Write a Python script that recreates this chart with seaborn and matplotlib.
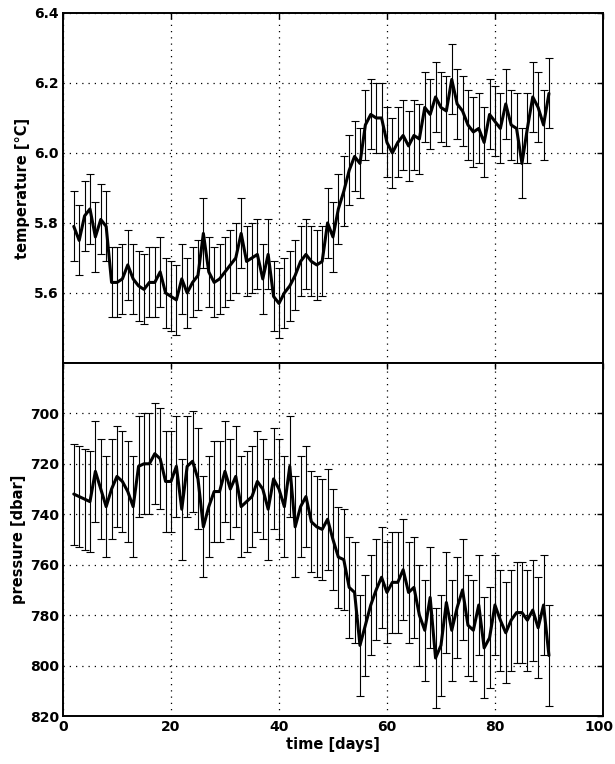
import numpy as np
import matplotlib
matplotlib.use("Agg")
import matplotlib.pyplot as plt
import matplotlib.transforms as mtransforms
import seaborn as sns
import pandas as pd

# daily values, day 2 .. day 90
days = list(range(2, 91))

temperature = [5.79, 5.75, 5.82, 5.84, 5.76, 5.81, 5.79, 5.63, 5.63, 5.64,
               5.68, 5.64, 5.62, 5.61, 5.63, 5.63, 5.66, 5.60, 5.59, 5.58,
               5.64, 5.60, 5.63, 5.65, 5.77, 5.66, 5.63, 5.64, 5.66, 5.68,
               5.70, 5.77, 5.69, 5.70, 5.71, 5.64, 5.71, 5.59, 5.57, 5.60,
               5.62, 5.65, 5.69, 5.71, 5.69, 5.68, 5.69, 5.80, 5.76, 5.84,
               5.89, 5.95, 5.99, 5.97, 6.08, 6.11, 6.10, 6.10, 6.03, 6.00,
               6.03, 6.05, 6.02, 6.05, 6.04, 6.13, 6.11, 6.16, 6.13, 6.12,
               6.21, 6.14, 6.12, 6.08, 6.06, 6.07, 6.03, 6.11, 6.09, 6.07,
               6.14, 6.08, 6.07, 5.97, 6.07, 6.16, 6.13, 6.08, 6.17]

pressure = [732, 733, 734, 735, 723, 730, 737, 730, 725, 727,
            731, 737, 721, 720, 720, 716, 718, 727, 727, 721,
            738, 721, 719, 726, 745, 737, 731, 731, 723, 730,
            725, 737, 735, 733, 727, 730, 738, 726, 730, 737,
            721, 745, 737, 733, 743, 745, 746, 742, 750, 757,
            758, 769, 771, 792, 784, 776, 770, 765, 771, 767,
            767, 762, 771, 769, 780, 786, 773, 797, 792, 775,
            786, 777, 770, 784, 786, 776, 793, 789, 776, 782,
            787, 782, 779, 779, 782, 778, 785, 776, 796]

temp_err = 0.10
pres_err = 20

df = pd.DataFrame({"day": days, "temperature": temperature, "pressure": pressure})

sns.set_style("white")
plt.rcParams['font.family'] = ['DejaVu Sans']
plt.rcParams['font.weight'] = 'bold'
plt.rcParams['text.color'] = 'k'
plt.rcParams['axes.labelcolor'] = 'k'

fig = plt.figure(figsize=(6.15, 7.64), dpi=100)
ax1 = fig.add_axes([0.1024, 0.525, 0.878, 0.458])
ax2 = fig.add_axes([0.1024, 0.0628, 0.878, 0.4622])

for ax, col, err in [(ax1, "temperature", temp_err), (ax2, "pressure", pres_err)]:
    ax.errorbar(df["day"], df[col], yerr=err, fmt="none", ecolor="k",
                elinewidth=0.8, capsize=3, capthick=0.8)
    sns.lineplot(data=df, x="day", y=col, ax=ax, color="k", linewidth=2.2)
    ax.set_xlim(0, 100)
    ax.set_xticks([0, 20, 40, 60, 80, 100])
    ax.grid(True, linestyle=(0, (1, 4)), color="k", linewidth=0.9)
    ax.tick_params(direction="in", length=4, width=1, top=True, right=True,
                   labelsize=10, colors="k", pad=3)
    for s in ax.spines.values():
        s.set_color("k")
        s.set_linewidth(1.4)

ax1.set_ylim(5.4, 6.4)
ax1.set_yticks([5.6, 5.8, 6.0, 6.2, 6.4])
ax1.set_yticklabels(["5.6", "5.8", "6.0", "6.2", "6.4"], fontweight="bold")
ax1.set_xticklabels([])
ax1.set_xlabel("")
ax1.set_ylabel("temperature [°C]", fontsize=10.5, fontweight="bold", labelpad=3)

ax2.set_ylim(820, 680)
ax2.set_yticks([700, 720, 740, 760, 780, 800, 820])
ax2.set_yticklabels(["700", "720", "740", "760", "780", "800", "820"], fontweight="bold")
ax2.set_xticklabels(["0", "20", "40", "60", "80", "100"], fontweight="bold")
ax2.set_xlabel("time [days]", fontsize=10.5, fontweight="bold", labelpad=2)
ax2.set_ylabel("pressure [dbar]", fontsize=10.5, fontweight="bold", labelpad=3)

# keep the "100" label inside the figure
last = ax2.get_xticklabels()[-1]
last.set_transform(last.get_transform() +
                   mtransforms.ScaledTranslation(-4 / 100, 0, fig.dpi_scale_trans))

fig.savefig("out.png", dpi=100)
